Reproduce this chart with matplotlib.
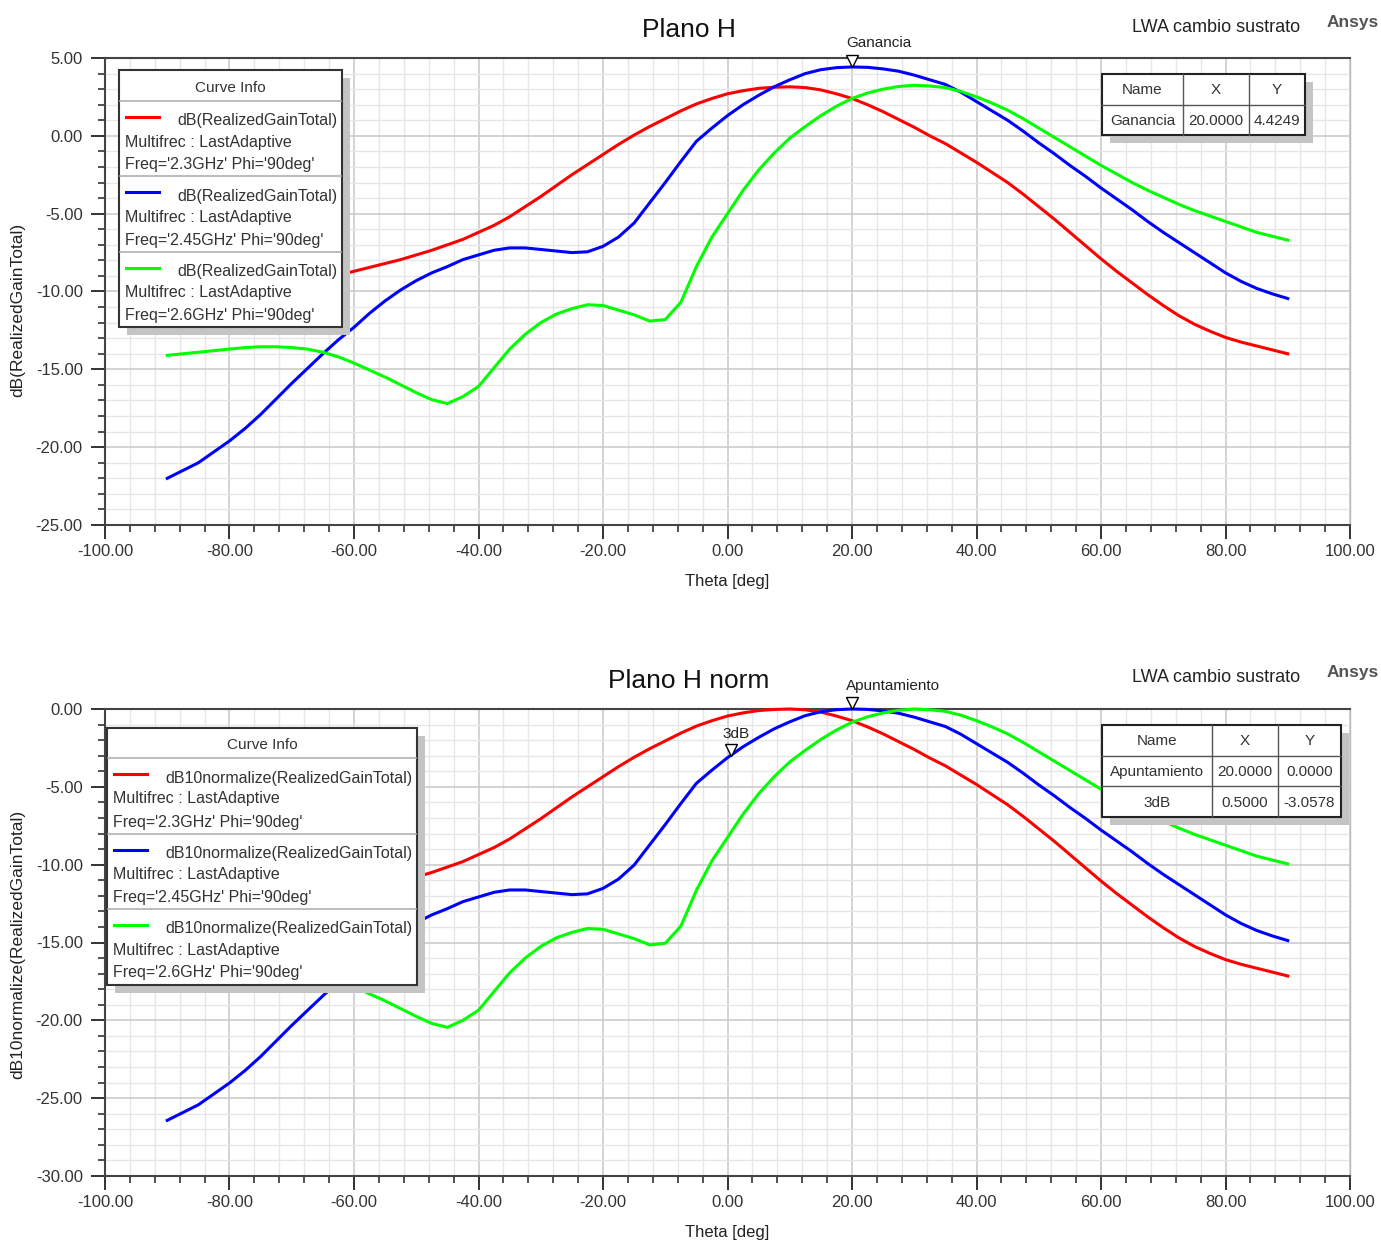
import numpy as np
import matplotlib
matplotlib.use("Agg")
import matplotlib.pyplot as plt
from matplotlib.lines import Line2D
from matplotlib.patches import Rectangle
from matplotlib.ticker import MultipleLocator, FormatStrFormatter
from matplotlib.transforms import offset_copy

plt.rcParams['font.family'] = ['Liberation Sans', 'DejaVu Sans']

W, H = 1381, 1242

# ---- data, theta every 2.5 deg ----
theta = np.arange(-90, 90.1, 2.5)
gain_23 = [-11.8, -11.55, -11.3, -11.05, -10.8, -10.55, -10.3, -10.05, -9.8, -9.5,
           -9.2, -8.95, -8.7, -8.45, -8.2, -7.95, -7.65, -7.35, -7.0, -6.65,
           -6.2, -5.75, -5.2, -4.55, -3.9, -3.2, -2.5, -1.85, -1.2, -0.55,
           0.05, 0.6, 1.1, 1.6, 2.05, 2.4, 2.7, 2.9, 3.05, 3.12,
           3.15, 3.1, 2.95, 2.7, 2.4, 2.0, 1.55, 1.05, 0.55, 0.0,
           -0.5, -1.1, -1.7, -2.35, -3.0, -3.75, -4.55, -5.35, -6.2, -7.05,
           -7.9, -8.7, -9.45, -10.2, -10.9, -11.55, -12.1, -12.55, -12.95, -13.25,
           -13.5, -13.75, -14.0]
gain_245 = [-22.0, -21.5, -21.0, -20.3, -19.6, -18.8, -17.9, -16.9, -15.9, -14.95,
            -14.0, -13.1, -12.3, -11.4, -10.6, -9.9, -9.3, -8.8, -8.4, -7.95,
            -7.65, -7.35, -7.2, -7.2, -7.3, -7.4, -7.5, -7.45, -7.1, -6.5,
            -5.6, -4.3, -3.0, -1.65, -0.35, 0.5, 1.3, 2.0, 2.6, 3.15,
            3.6, 4.0, 4.25, 4.38, 4.4249, 4.4, 4.3, 4.15, 3.9, 3.6,
            3.3, 2.8, 2.2, 1.6, 1.0, 0.3, -0.45, -1.15, -1.9, -2.6,
            -3.35, -4.05, -4.75, -5.5, -6.2, -6.85, -7.5, -8.15, -8.8, -9.35,
            -9.8, -10.15, -10.45]
gain_26 = [-14.1, -14.0, -13.9, -13.8, -13.7, -13.6, -13.55, -13.55, -13.6, -13.7,
           -13.9, -14.2, -14.6, -15.05, -15.5, -16.0, -16.5, -16.95, -17.2, -16.75,
           -16.1, -14.9, -13.7, -12.75, -12.0, -11.45, -11.1, -10.85, -10.9, -11.2,
           -11.5, -11.9, -11.8, -10.7, -8.4, -6.5, -5.0, -3.5, -2.2, -1.1,
           -0.15, 0.6, 1.3, 1.9, 2.4, 2.75, 3.0, 3.17, 3.25, 3.2,
           3.1, 2.85, 2.5, 2.1, 1.65, 1.1, 0.5, -0.1, -0.7, -1.3,
           -1.9, -2.45, -3.0, -3.5, -3.95, -4.4, -4.8, -5.15, -5.5, -5.85,
           -6.2, -6.45, -6.7]

freqs = ["2.3GHz", "2.45GHz", "2.6GHz"]
colors = ["#ff0000", "#0000ff", "#00ff00"]
series = [np.array(gain_23), np.array(gain_245), np.array(gain_26)]

marker_top = ("Ganancia", 20.0, 4.4249)
markers_bot = [("Apuntamiento", 20.0, 0.0), ("3dB", 0.5, -3.0578)]


def fx(x):
    return x / W


def fy(y):
    return 1 - y / H


fig = plt.figure(figsize=(W / 100, H / 100), dpi=100)


def setup_axes(ax, ylo, yhi):
    ax.set_xlim(-100, 100)
    ax.set_ylim(ylo, yhi)
    ax.xaxis.set_major_locator(MultipleLocator(20))
    ax.xaxis.set_minor_locator(MultipleLocator(4))
    ax.yaxis.set_major_locator(MultipleLocator(5))
    ax.yaxis.set_minor_locator(MultipleLocator(1))
    ax.xaxis.set_major_formatter(FormatStrFormatter('%.2f'))
    ax.yaxis.set_major_formatter(FormatStrFormatter('%.2f'))
    ax.grid(which='major', color='#c8c8c8', lw=1.1)
    ax.grid(which='minor', color='#e6e6e6', lw=1.0)
    ax.set_axisbelow(True)
    ax.tick_params(which='major', length=10, width=1.4, color='#333333',
                   labelsize=12, labelcolor='#333333', pad=4)
    ax.tick_params(which='minor', length=5, width=1.2, color='#333333')
    ax.tick_params(axis='y', which='major', pad=6)
    for s in ['left', 'bottom', 'top']:
        ax.spines[s].set_color('#444444')
        ax.spines[s].set_linewidth(1.5)
    ax.spines['right'].set_color('#bbbbbb')
    ax.spines['right'].set_linewidth(1.0)


def add_marker(ax, name, x, y, dx, dy):
    tr = offset_copy(ax.transData, fig=fig, x=0, y=4.5, units='points')
    ax.plot([x], [y], marker='v', ms=9, mfc='white', mec='black', mew=1.0,
            transform=tr, clip_on=False, zorder=10)
    ax.annotate(name, xy=(x, y), xytext=(dx, dy), textcoords='offset pixels',
                ha='left', va='center', fontsize=11, color='#222222',
                annotation_clip=False)


def curve_info(x0, y0, w, title_h, row_h, expr):
    h = title_h + 3 * row_h
    fig.add_artist(Rectangle((fx(x0 + 8), fy(y0 + 8 + h)), w / W, h / H,
                             transform=fig.transFigure, fc='#c4c4c4', ec='none', zorder=5))
    fig.add_artist(Rectangle((fx(x0), fy(y0 + h)), w / W, h / H,
                             transform=fig.transFigure, fc='white', ec='#333333',
                             lw=1.5, zorder=6))
    fig.text(fx(x0 + w / 2), fy(y0 + title_h / 2 + 2), "Curve Info", ha='center',
             va='center', fontsize=11, color='#333333', zorder=8)
    for i, (f, c) in enumerate(zip(freqs, colors)):
        top = y0 + title_h + i * row_h
        fig.add_artist(Line2D([fx(x0 + 1), fx(x0 + w - 1)], [fy(top), fy(top)],
                              transform=fig.transFigure, color='#b0b0b0', lw=1.2, zorder=7))
        fig.add_artist(Line2D([fx(x0 + 7), fx(x0 + 40)], [fy(top + 16), fy(top + 16)],
                              transform=fig.transFigure, color=c, lw=2.2, zorder=7))
        fig.text(fx(x0 + w - 5), fy(top + 20), expr, ha='right', va='center',
                 fontsize=11.5, color='#333333', zorder=8)
        fig.text(fx(x0 + 6), fy(top + 41), "Multifrec : LastAdaptive", ha='left',
                 va='center', fontsize=11.5, color='#333333', zorder=8)
        fig.text(fx(x0 + 6), fy(top + 64), "Freq='%s' Phi='90deg'" % f, ha='left',
                 va='center', fontsize=11.5, color='#333333', zorder=8)


def marker_table(x0, y0, col_w, row_h, rows):
    w = sum(col_w)
    h = row_h * len(rows)
    fig.add_artist(Rectangle((fx(x0 + 8), fy(y0 + 8 + h)), w / W, h / H,
                             transform=fig.transFigure, fc='#c4c4c4', ec='none', zorder=5))
    fig.add_artist(Rectangle((fx(x0), fy(y0 + h)), w / W, h / H,
                             transform=fig.transFigure, fc='white', ec='#222222',
                             lw=1.5, zorder=6))
    xs = np.cumsum([x0] + col_w)
    for xc in xs[1:-1]:
        fig.add_artist(Line2D([fx(xc), fx(xc)], [fy(y0), fy(y0 + h)],
                              transform=fig.transFigure, color='#555555', lw=1.0, zorder=7))
    for r in range(1, len(rows)):
        fig.add_artist(Line2D([fx(x0), fx(x0 + w)], [fy(y0 + r * row_h), fy(y0 + r * row_h)],
                              transform=fig.transFigure, color='#555555', lw=1.0, zorder=7))
    for r, row in enumerate(rows):
        for cidx, txt in enumerate(row):
            cx = (xs[cidx] + xs[cidx + 1]) / 2
            fig.text(fx(cx), fy(y0 + r * row_h + row_h / 2 + 1), txt, ha='center',
                     va='center', fontsize=11, color='#333333', zorder=8)


# ---- top panel ----
ax1 = fig.add_axes([fx(105), fy(525), (1350 - 105) / W, (525 - 58) / H])
setup_axes(ax1, -25, 5)
for g, c in zip(series, colors):
    ax1.plot(theta, g, color=c, lw=2.2, zorder=3)
add_marker(ax1, marker_top[0], marker_top[1], marker_top[2], -6, 24)

# ---- bottom panel (normalized) ----
ax2 = fig.add_axes([fx(105), fy(1176), (1350 - 105) / W, (1176 - 709) / H])
setup_axes(ax2, -30, 0)
for g, c in zip(series, colors):
    ax2.plot(theta, g - g.max(), color=c, lw=2.2, zorder=3, clip_on=False)
add_marker(ax2, markers_bot[0][0], markers_bot[0][1], markers_bot[0][2], -6, 23)
add_marker(ax2, markers_bot[1][0], markers_bot[1][1], markers_bot[1][2], -8, 23)

# ---- titles & labels ----
for ytop, title in [(30, "Plano H"), (681, "Plano H norm")]:
    fig.text(fx(689), fy(ytop), title, ha='center', va='center', fontsize=19, color='#111111')
    fig.text(fx(1216), fy(ytop - 3), "LWA cambio sustrato", ha='center', va='center',
             fontsize=13, color='#222222')
    fig.text(fx(1353), fy(ytop - 8), "Ansys", ha='center', va='center', fontsize=12.5,
             fontweight='bold', color='#555555')

fig.text(fx(727), fy(581), "Theta [deg]", ha='center', va='center', fontsize=12, color='#222222')
fig.text(fx(727), fy(1232), "Theta [deg]", ha='center', va='center', fontsize=12, color='#222222')
fig.text(fx(18), fy(310), "dB(RealizedGainTotal)", ha='center', va='center', rotation=90,
         fontsize=12.5, color='#222222')
fig.text(fx(18), fy(944), "dB10normalize(RealizedGainTotal)", ha='center', va='center',
         rotation=90, fontsize=12.5, color='#222222')

# ---- legends and marker tables ----
curve_info(119, 70, 223, 31, 75.3, "dB(RealizedGainTotal)")
curve_info(107, 728, 310, 30, 75.5, "dB10normalize(RealizedGainTotal)")

marker_table(1102, 74, [81, 66, 56], 30.5,
             [["Name", "X", "Y"], ["Ganancia", "20.0000", "4.4249"]])
marker_table(1102, 725, [110, 66, 63], 30.7,
             [["Name", "X", "Y"], ["Apuntamiento", "20.0000", "0.0000"],
              ["3dB", "0.5000", "-3.0578"]])

fig.savefig("out.png", dpi=100)
